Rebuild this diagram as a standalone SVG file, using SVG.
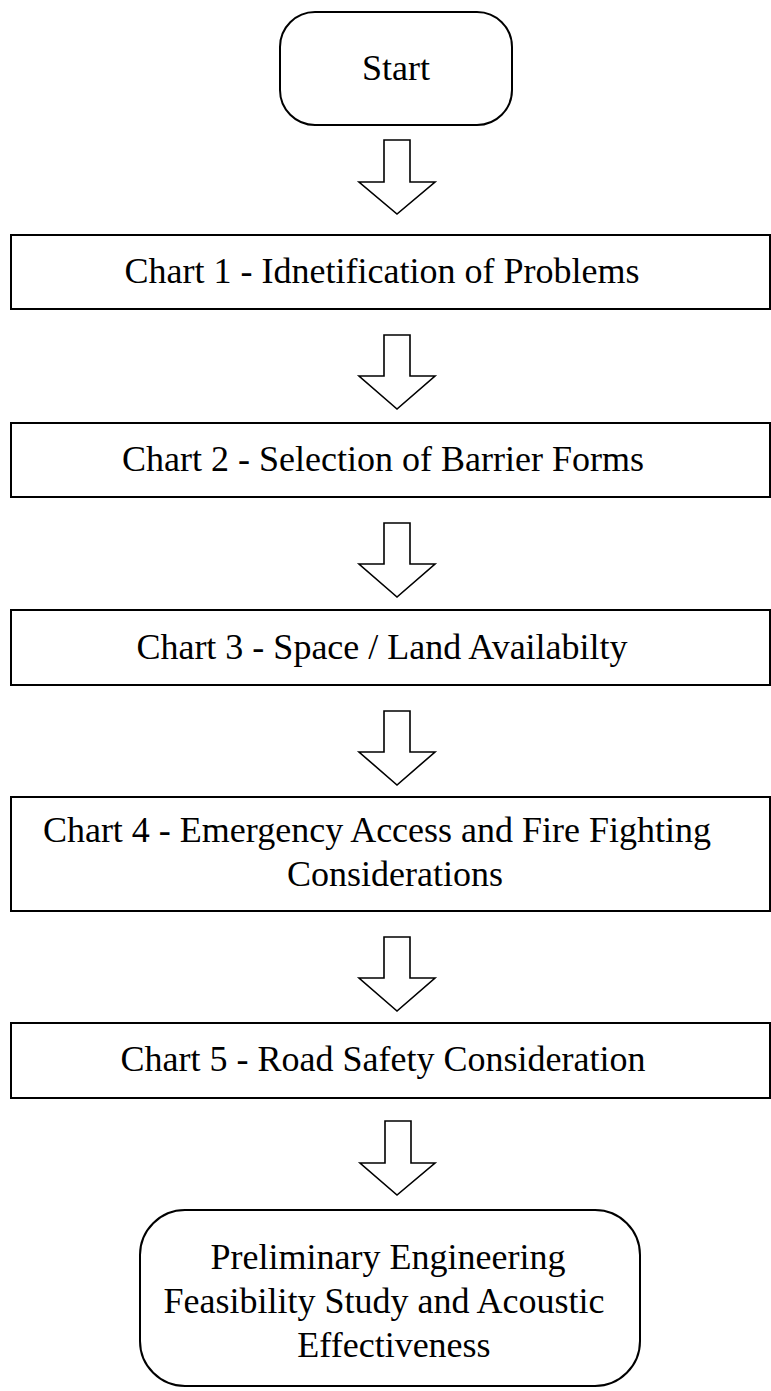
<svg xmlns="http://www.w3.org/2000/svg" width="771" height="1391" viewBox="0 0 771 1391">
<style>
.box{fill:#fff;stroke:#000;stroke-width:2}
.arr{fill:#fff;stroke:#000;stroke-width:1.6;stroke-linejoin:miter}
.t{font-family:"Liberation Serif","Times New Roman",serif;font-size:36px;fill:#000;text-anchor:middle}
</style>
<rect width="771" height="1391" fill="#fff"/>
<g id="connectors">
<path class="arr" d="M384,140 L410,140 L410,182 L435,182 L397,214 L359,182 L384,182 Z"/>
<path class="arr" d="M384,335 L410,335 L410,376 L435,376 L397,409 L359,376 L384,376 Z"/>
<path class="arr" d="M384,523 L410,523 L410,564 L435,564 L397,597 L359,564 L384,564 Z"/>
<path class="arr" d="M384,711 L410,711 L410,752 L435,752 L397,785 L359,752 L384,752 Z"/>
<path class="arr" d="M384,937 L410,937 L410,978 L435,978 L397,1011 L359,978 L384,978 Z"/>
<path class="arr" d="M385,1121 L411,1121 L411,1163 L435,1163 L397,1195 L360,1163 L385,1163 Z"/>
</g>
<g id="start">
<rect class="box" x="280" y="12" width="232" height="113" rx="35" ry="35"/>
<text class="t" x="396" y="80">Start</text>
</g>
<g id="chart1">
<rect class="box" x="11" y="235" width="759" height="74"/>
<text class="t" x="382" y="283">Chart 1 - Idnetification of Problems</text>
</g>
<g id="chart2">
<rect class="box" x="11" y="423" width="759" height="74"/>
<text class="t" x="383" y="471">Chart 2 - Selection of Barrier Forms</text>
</g>
<g id="chart3">
<rect class="box" x="11" y="610" width="759" height="75"/>
<text class="t" x="382" y="659">Chart 3 - Space / Land Availabilty</text>
</g>
<g id="chart4">
<rect class="box" x="11" y="797" width="759" height="114"/>
<text class="t" x="377" y="842">Chart 4 - Emergency Access and Fire Fighting</text>
<text class="t" x="395" y="886">Considerations</text>
</g>
<g id="chart5">
<rect class="box" x="11" y="1023" width="759" height="75"/>
<text class="t" x="383" y="1071">Chart 5 - Road Safety Consideration</text>
</g>
<g id="end">
<rect class="box" x="140" y="1210" width="500" height="176" rx="45" ry="45"/>
<text class="t" x="388" y="1269">Preliminary Engineering</text>
<text class="t" x="384" y="1313">Feasibility Study and Acoustic</text>
<text class="t" x="394" y="1357">Effectiveness</text>
</g>
</svg>
